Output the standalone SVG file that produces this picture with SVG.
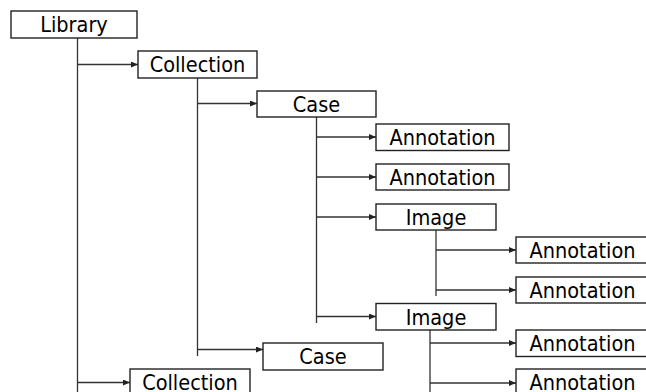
<svg xmlns="http://www.w3.org/2000/svg" width="646" height="392" viewBox="0 0 646 392">
<defs>
<marker id="ah" markerWidth="7" markerHeight="6" refX="7" refY="3" orient="auto" markerUnits="userSpaceOnUse">
<path d="M0,0 L7,3 L0,6 Z" fill="#222"/>
</marker>
<style>
.box{fill:#fff;stroke:#222;stroke-width:1.4}
.lbl{font-family:"DejaVu Sans Condensed","DejaVu Sans",sans-serif;font-size:21.5px;fill:#000;text-anchor:middle}
.ln{fill:none;stroke:#333;stroke-width:1.3}
.ar{fill:none;stroke:#333;stroke-width:1.3;marker-end:url(#ah)}
</style>
</defs>
<rect width="646" height="392" fill="#fff"/>
<g id="connectors">
<path class="ln" d="M77.5,38 V392"/>
<path class="ar" d="M77.5,64.5 H138"/>
<path class="ar" d="M77.5,382.5 H130"/>
<path class="ln" d="M197.5,78 V356"/>
<path class="ar" d="M197.5,103.5 H257"/>
<path class="ar" d="M197.5,349.5 H263"/>
<path class="ln" d="M316.5,117 V323"/>
<path class="ar" d="M316.5,137 H376"/>
<path class="ar" d="M316.5,177 H376"/>
<path class="ar" d="M316.5,217 H376"/>
<path class="ar" d="M316.5,316.5 H376"/>
<path class="ln" d="M436,230 V296"/>
<path class="ar" d="M436,250 H516"/>
<path class="ar" d="M436,290 H516"/>
<path class="ln" d="M430,330 V392"/>
<path class="ar" d="M430,343 H516"/>
<path class="ar" d="M430,383 H516"/>
</g>
<g id="library"><rect class="box" x="11" y="11" width="126" height="27"/><text class="lbl" x="74" y="32">Library</text></g>
<g id="collection1"><rect class="box" x="138" y="51" width="119" height="27"/><text class="lbl" x="197.5" y="72">Collection</text></g>
<g id="case1"><rect class="box" x="257" y="91" width="119" height="26"/><text class="lbl" x="316.5" y="111.5">Case</text></g>
<g id="annotation1"><rect class="box" x="376" y="124" width="133" height="26.5"/><text class="lbl" x="442.5" y="145">Annotation</text></g>
<g id="annotation2"><rect class="box" x="376" y="164" width="133" height="26"/><text class="lbl" x="442.5" y="184.5">Annotation</text></g>
<g id="image1"><rect class="box" x="376" y="204" width="120" height="26"/><text class="lbl" x="436" y="224.5">Image</text></g>
<g id="annotation3"><rect class="box" x="516" y="237" width="133" height="26"/><text class="lbl" x="582.5" y="257.5">Annotation</text></g>
<g id="annotation4"><rect class="box" x="516" y="277" width="133" height="26"/><text class="lbl" x="582.5" y="297.5">Annotation</text></g>
<g id="image2"><rect class="box" x="376" y="303.5" width="120" height="26.5"/><text class="lbl" x="436" y="324.5">Image</text></g>
<g id="annotation5"><rect class="box" x="516" y="330" width="133" height="26.5"/><text class="lbl" x="582.5" y="351">Annotation</text></g>
<g id="annotation6"><rect class="box" x="516" y="369" width="133" height="27"/><text class="lbl" x="582.5" y="390">Annotation</text></g>
<g id="case2"><rect class="box" x="263" y="343" width="120" height="27"/><text class="lbl" x="323" y="364">Case</text></g>
<g id="collection2"><rect class="box" x="130" y="369" width="120" height="27"/><text class="lbl" x="190" y="390">Collection</text></g>
</svg>
